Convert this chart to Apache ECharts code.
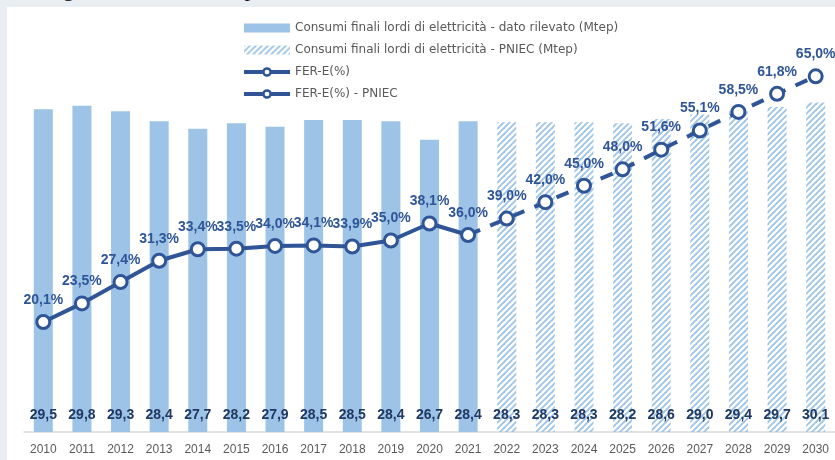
<!DOCTYPE html>
<html>
<head>
<meta charset="utf-8">
<script src="https://cdn.jsdelivr.net/npm/echarts@6/dist/echarts.min.js"></script>
<style>
  html, body { margin: 0; padding: 0; background: #e8eef1; }
  #wrap { position: relative; width: 835px; height: 460px; overflow: hidden; }
  #top { position: absolute; left: 3px; top: -24px; font: 22px "Liberation Serif", serif; color: #111; white-space: nowrap; }
  #chart { position: absolute; left: 7px; top: 7px; width: 828px; height: 453px; background: #fff; }
</style>
</head>
<body>
<div id="wrap">
  <div id="top">di energia elettrica rilevato pari al 30,0%,</div>
  <div id="chart"></div>
</div>
<script>
(function () {
  // ---- data ----
  const years = ['2010','2011','2012','2013','2014','2015','2016','2017','2018','2019','2020',
                 '2021','2022','2023','2024','2025','2026','2027','2028','2029','2030'];
  const consObs = [29.5, 29.8, 29.3, 28.4, 27.7, 28.2, 27.9, 28.5, 28.5, 28.4, 26.7, 28.4];
  const consPniec = [28.3, 28.3, 28.3, 28.2, 28.6, 29.0, 29.4, 29.7, 30.1];
  const ferObs = [20.1, 23.5, 27.4, 31.3, 33.4, 33.5, 34.0, 34.1, 33.9, 35.0, 38.1, 36.0];
  const ferPniec = [39.0, 42.0, 45.0, 48.0, 51.6, 55.1, 58.5, 61.8, 65.0];

  const LIGHT = '#9dc3e6', DARK = '#2f5597', NAVY = '#1f3864', GREY = '#595959';
  const FONT = '"Liberation Sans", Arial, sans-serif';
  const nObs = consObs.length;
  const pad = n => Array(n).fill('-');
  const fmt = v => (+v).toFixed(1).replace('.', ',');

  // hatched fill for the PNIEC bars
  const cv = document.createElement('canvas');
  cv.width = 6; cv.height = 6;
  const cx = cv.getContext('2d');
  cx.strokeStyle = LIGHT; cx.lineWidth = 1.8;
  [[0, 6, 6, 0], [-3, 3, 3, -3], [3, 9, 9, 3]].forEach(l => {
    cx.beginPath(); cx.moveTo(l[0], l[1]); cx.lineTo(l[2], l[3]); cx.stroke();
  });
  const hatch = { image: cv, repeat: 'repeat' };

  const barLabel = { show: true, position: 'insideBottom', distance: 10, color: NAVY,
    fontFamily: FONT, fontWeight: 'bold', fontSize: 14, formatter: p => fmt(p.value) };
  const lineLabel = { show: true, position: 'top', distance: 7, color: DARK,
    fontFamily: FONT, fontWeight: 'bold', fontSize: 14, formatter: p => fmt(p.value) + '%' };

  const names = ['Consumi finali lordi di elettricità - dato rilevato (Mtep)',
                 'Consumi finali lordi di elettricità - PNIEC (Mtep)',
                 'FER-E(%)', 'FER-E(%) - PNIEC'];

  // dashed projection starts from the last observed point
  const pniecLine = pad(nObs - 1)
    .concat([{ value: ferObs[nObs - 1], symbol: 'none', label: { show: false } }])
    .concat(ferPniec);

  const legendLine = { color: DARK, width: 4, type: 'solid' };
  const legendDot = { color: '#fff', borderColor: DARK, borderWidth: 2.5 };

  const chart = echarts.init(document.getElementById('chart'), null, { renderer: 'canvas' });
  chart.setOption({
    backgroundColor: '#fff',
    animation: false,
    grid: { left: 17, right: 0, top: 31, bottom: 28 },
    legend: {
      orient: 'vertical', left: 230, top: 9, itemGap: 8, itemWidth: 46, itemHeight: 9,
      textStyle: { color: GREY, fontSize: 12, lineHeight: 14, fontFamily: '"DejaVu Sans", sans-serif' },
      data: [
        { name: names[0], icon: 'rect' },
        { name: names[1], icon: 'rect' },
        { name: names[2], lineStyle: legendLine, itemStyle: legendDot },
        { name: names[3], lineStyle: legendLine, itemStyle: legendDot }
      ]
    },
    xAxis: {
      type: 'category', data: years,
      axisLine: { lineStyle: { color: '#d9d9d9', width: 1.5 } }, axisTick: { show: false },
      axisLabel: { color: GREY, fontSize: 12, margin: 12, interval: 0, fontFamily: FONT }
    },
    yAxis: [
      { type: 'value', min: 0, max: 36, show: false, splitLine: { show: false } },
      { type: 'value', min: 0, max: 72, show: false, splitLine: { show: false } }
    ],
    series: [
      { name: names[0], type: 'bar', barWidth: 19, barGap: '-100%',
        data: consObs.concat(pad(consPniec.length)),
        itemStyle: { color: LIGHT }, label: barLabel },
      { name: names[1], type: 'bar', barWidth: 19, barGap: '-100%',
        data: pad(nObs).concat(consPniec),
        itemStyle: { color: hatch }, label: barLabel },
      { name: names[2], type: 'line', yAxisIndex: 1, z: 5,
        data: ferObs.concat(pad(ferPniec.length)),
        symbol: 'circle', symbolSize: 13,
        itemStyle: { color: '#fff', borderColor: DARK, borderWidth: 3 },
        lineStyle: { color: DARK, width: 4 }, label: lineLabel },
      { name: names[3], type: 'line', yAxisIndex: 1, z: 4,
        data: pniecLine,
        symbol: 'circle', symbolSize: 13,
        itemStyle: { color: '#fff', borderColor: DARK, borderWidth: 3 },
        lineStyle: { color: DARK, width: 4, type: [13, 11] }, label: lineLabel }
    ]
  });
})();
</script>
</body>
</html>
